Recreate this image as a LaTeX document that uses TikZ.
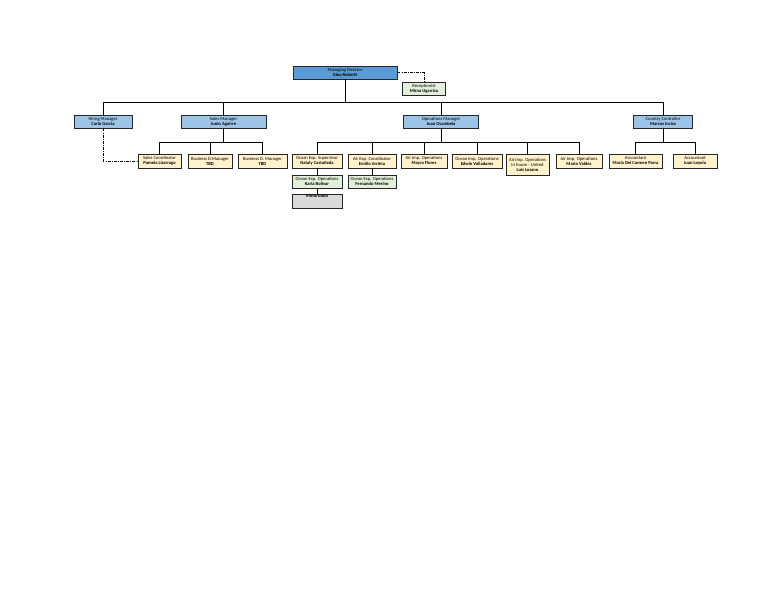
\documentclass[tikz,border=0pt]{standalone}
\usepackage{fontspec}
\setmainfont{Carlito}
\begin{document}
\begin{tikzpicture}[x=1pt,y=-1pt,
  every node/.style={font=\fontsize{4.6}{5.0}\selectfont, align=center, inner sep=0pt},
  box/.style={draw=black!85, line width=0.9pt, minimum height=13pt},
  mgr/.style={box, fill=mgrblue},
  top/.style={box, fill=topblue},
  staff/.style={box, fill=staffyellow, minimum height=14pt},
  ops/.style={box, fill=opsgreen},
  misc/.style={box, fill=miscgray, minimum height=14pt},
  link/.style={draw=black, line width=0.8pt},
  dotlink/.style={draw=black, line width=0.7pt, dash pattern=on 3pt off 1.2pt on 0.8pt off 1.2pt}
]
\definecolor{topblue}{HTML}{5B9BD5}
\definecolor{mgrblue}{HTML}{9DC3E6}
\definecolor{staffyellow}{HTML}{FFF2CC}
\definecolor{opsgreen}{HTML}{E2EFDA}
\definecolor{miscgray}{HTML}{D9D9D9}
\useasboundingbox (0,0) rectangle (768,594);
\fill[white] (0,0) rectangle (768,594);

% top
\node[top, minimum width=104pt] (md) at (345,72.5) {Managing Director\\\textbf{Gina Robertt}};
\node[ops, minimum width=43pt] (rec) at (424,88.5) {Receptionist\\\textbf{Mirna Ugarriza}};

% managers
\node[mgr, minimum width=58pt] (hir) at (103,121.5) {Hiring Manager\\\textbf{Carlo Garcia}};
\node[mgr, minimum width=85pt] (sal) at (223.5,121.5) {Sales Manager\\\textbf{Junio Aguirre}};
\node[mgr, minimum width=75pt] (opm) at (441,121.5) {Operations Manager\\\textbf{Juan Osambela}};
\node[mgr, minimum width=59pt] (cc) at (663,121.5) {Country Controller\\\textbf{Marcos Incisa}};

% sales staff
\node[staff, minimum width=43pt] (sc) at (159.5,161) {Sales Coordinator\\\textbf{Pamela Lizarraga}};
\node[staff, minimum width=44pt] (bd1) at (210,161) {Business D.Manager\\\textbf{TBD}};
\node[staff, minimum width=49pt] (bd2) at (262.5,161) {Business D. Manager\\\textbf{TBD}};

% operations staff
\node[staff, minimum width=50pt] (oes) at (317,161) {Ocean Exp. Supervisor\\\textbf{Nataly Casta\~neda}};
\node[staff, minimum width=48pt] (aec) at (372,161) {Air Exp. Coordinator\\\textbf{Emilio Arrieta}};
\node[staff, minimum width=46pt] (aio1) at (424,161) {Air Imp. Operations\\\textbf{Mayra Flores}};
\node[staff, minimum width=50pt] (oio) at (477,161) {Ocean Imp. Operations\\\textbf{Edwin Valladares}};
\node[staff, minimum width=43pt, minimum height=21pt] (aio2) at (527.5,164.5) {Air Imp. Operations\\In house - United\\\textbf{Luis Lozano}};
\node[staff, minimum width=46pt] (aio3) at (579,161) {Air Imp. Operations\\\textbf{Mario Valdes}};

\node[ops, minimum width=50pt] (oeo1) at (317,181.5) {Ocean Exp. Operations\\\textbf{Karla Bolivar}};
\node[ops, minimum width=48pt] (oeo2) at (372,181.5) {Ocean Exp. Operations\\\textbf{Fernando Merino}};
\node[misc, minimum width=50pt] (moto) at (317,201) {\textbf{Motorizado}\\[5pt]};

% accounting
\node[staff, minimum width=53pt] (acc1) at (635.5,161) {Accountant\\\textbf{Maria Del Carmen Parra}};
\node[staff, minimum width=44pt] (acc2) at (695,161) {Accountant\\\textbf{Juan Loyola}};

% main bus
\coordinate (bus) at (0,102.5);
\draw[link] (md.south) -- (md.south |- bus);
\draw[link] (hir.north) -- (hir.north |- bus) -| (cc.north);
\draw[link] (sal.north) -- (sal.north |- bus);
\draw[link] (opm.north) -- (opm.north |- bus);

% sub buses
\coordinate (sub) at (0,142);
\draw[link] (sal.south) -- (sal.south |- sub);
\draw[link] (sc.north) -- (sc.north |- sub) -| (bd2.north);
\draw[link] (bd1.north) -- (bd1.north |- sub);

\draw[link] (opm.south) -- (opm.south |- sub);
\draw[link] (oes.north) -- (oes.north |- sub) -| (aio3.north);
\draw[link] (aec.north) -- (aec.north |- sub);
\draw[link] (aio1.north) -- (aio1.north |- sub);
\draw[link] (oio.north) -- (oio.north |- sub);
\draw[link] (aio2.north) -- (aio2.north |- sub);
\draw[link] (oes.south) -- (oeo1.north);
\draw[link] (oeo1.south) -- (moto.north);
\draw[link] (aec.south) -- (oeo2.north);

\draw[link] (cc.south) -- (cc.south |- sub);
\draw[link] (acc1.north) -- (acc1.north |- sub) -| (acc2.north);

% dotted reporting lines
\draw[dotlink] (md.east) -| (rec.north);
\draw[dotlink] (hir.south) |- (sc.west);
\end{tikzpicture}
\end{document}
